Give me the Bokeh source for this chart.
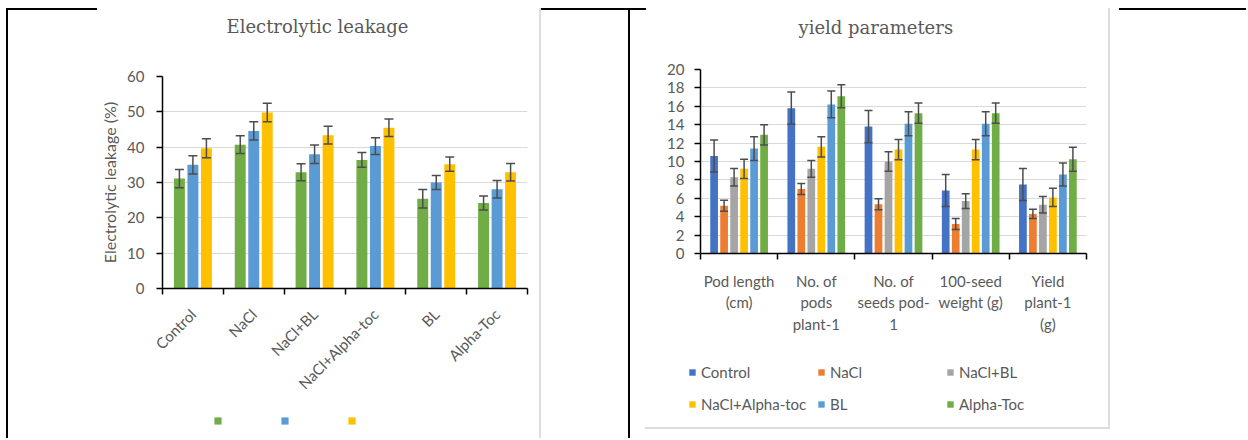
import math
from bokeh.plotting import figure
from bokeh.models import (ColumnDataSource, Range1d, LinearAxis, FixedTicker,
                          Whisker, TeeHead, Legend, LegendItem, Title)
from bokeh.transform import dodge
from bokeh.layouts import row, column
from bokeh.embed import file_html
from bokeh.resources import INLINE
from bokeh.core.properties import value

# ---------------- data: Electrolytic leakage ----------------
el_categories = ["Control", "NaCl", "NaCl+BL", "NaCl+Alpha-toc", "BL", "Alpha-Toc"]
el_green = [31.1, 40.7, 32.9, 36.4, 25.4, 24.2]
el_blue = [35.0, 44.6, 38.0, 40.3, 30.0, 28.1]
el_yellow = [39.7, 49.8, 43.4, 45.5, 35.2, 32.9]
el_green_err = [2.6, 2.5, 2.4, 2.1, 2.6, 2.0]
el_blue_err = [2.6, 2.6, 2.6, 2.4, 2.0, 2.5]
el_yellow_err = [2.7, 2.6, 2.5, 2.5, 2.0, 2.5]
el_yticks = [0, 10, 20, 30, 40, 50, 60]

# ---------------- data: yield parameters ----------------
yp_categories = ["Pod length (cm)", "No. of pods plant-1", "No. of seeds pod-1",
                 "100-seed weight (g)", "Yield plant-1 (g)"]
yp_tick_labels = ["Pod length\n(cm)", "No. of\npods\nplant-1", "No. of\nseeds pod-\n1",
                  "100-seed\nweight (g)", "Yield\nplant-1\n(g)"]
yp_series = ["Control", "NaCl", "NaCl+BL", "NaCl+Alpha-toc", "BL", "Alpha-Toc"]
yp_control = [10.6, 15.8, 13.8, 6.85, 7.5]
yp_nacl = [5.2, 7.0, 5.35, 3.2, 4.3]
yp_nacl_bl = [8.3, 9.2, 10.0, 5.7, 5.3]
yp_nacl_atoc = [9.2, 11.6, 11.3, 11.3, 6.1]
yp_bl = [11.4, 16.2, 14.1, 14.1, 8.6]
yp_atoc = [12.9, 17.1, 15.25, 15.25, 10.25]
yp_control_err = [1.75, 1.75, 1.75, 1.75, 1.75]
yp_nacl_err = [0.6, 0.6, 0.6, 0.6, 0.5]
yp_nacl_bl_err = [0.95, 0.9, 1.05, 0.8, 0.9]
yp_nacl_atoc_err = [1.05, 1.1, 1.1, 1.1, 1.0]
yp_bl_err = [1.3, 1.45, 1.3, 1.3, 1.25]
yp_atoc_err = [1.1, 1.25, 1.1, 1.1, 1.3]
yp_yticks = [0, 2, 4, 6, 8, 10, 12, 14, 16, 18, 20]

GREEN = "#70AD47"
BLUE = "#5B9BD5"
YELLOW = "#FFC000"
DBLUE = "#4472C4"
ORANGE = "#ED7D31"
GRAY = "#A5A5A5"
TXT = "#595959"
ERR = "#4D4D4D"
LINE_GRAY = "#DDDDDD"
FONT = "Lato"
H = 438
W1, W2 = 628, 618
H1, H2 = 405, 356          # heights of the chart figures; legend strips fill the rest


def css_lines(lines):
    imgs, pos, size = [], [], []
    for (x, y, w, h, c) in lines:
        imgs.append("linear-gradient(%s, %s)" % (c, c))
        pos.append("%dpx %dpx" % (x, y))
        size.append("%dpx %dpx" % (w, h))
    return (":host { background-color: white; background-repeat: no-repeat; "
            "background-image: %s; background-position: %s; background-size: %s; }"
            % (", ".join(imgs), ", ".join(pos), ", ".join(size)))


def style_common(p, title, spacer_standoff, offset):
    p.title = None
    p.outline_line_color = None
    p.background_fill_color = "white"
    p.border_fill_color = None
    p.ygrid.grid_line_color = "#D9D9D9"
    p.ygrid.grid_line_width = 1
    p.xgrid.grid_line_color = None
    # blank title used as a spacer between the frame and the real title
    p.add_layout(Title(text=" ", text_font="DejaVu Serif", text_font_size="18px",
                       standoff=spacer_standoff), "above")
    p.add_layout(Title(text=title, align="left", offset=offset, standoff=0,
                       text_font="DejaVu Serif", text_font_size="18px",
                       text_font_style="normal", text_color=TXT), "above")


def style_yaxis(ax, ticks, standoff):
    ax.ticker = FixedTicker(ticks=ticks)
    ax.major_label_text_font = FONT
    ax.major_label_text_font_size = "15px"
    ax.major_label_text_color = TXT
    ax.major_label_standoff = standoff
    ax.axis_line_color = "black"
    ax.axis_line_width = 1.5
    ax.major_tick_line_color = "black"
    ax.major_tick_line_width = 1.5
    ax.major_tick_in = 0
    ax.major_tick_out = 6
    ax.minor_tick_line_color = None


def cat_xaxis(labels, standoff):
    n = len(labels)
    ax = LinearAxis(ticker=FixedTicker(ticks=[i + 0.5 for i in range(n)],
                                       minor_ticks=list(range(n + 1))),
                    major_label_overrides={i + 0.5: c for i, c in enumerate(labels)})
    ax.major_label_text_font = FONT
    ax.major_label_text_font_size = "15px"
    ax.major_label_text_color = TXT
    ax.major_label_standoff = standoff
    ax.major_tick_line_color = None
    ax.major_tick_out = 6
    ax.minor_tick_line_color = "black"
    ax.minor_tick_line_width = 1.5
    ax.minor_tick_in = 0
    ax.minor_tick_out = 6
    ax.axis_line_color = "black"
    ax.axis_line_width = 1.5
    return ax


def legend_strip(width, height, css):
    f = figure(width=width, height=height, x_range=Range1d(0, width), y_range=Range1d(0, height),
               output_backend="svg", toolbar_location=None,
               x_axis_location=None, y_axis_location=None,
               min_border_left=0, min_border_right=0, min_border_top=0, min_border_bottom=0,
               frame_align=False, stylesheets=[css])
    f.title = None
    f.outline_line_color = None
    f.background_fill_color = None
    f.border_fill_color = None
    f.grid.visible = False
    return f


def swatch(f, color):
    # zero-height, off-range bar: only used so the legend can draw its colour square
    return f.vbar(x=[-10], top=[0], width=0.5, fill_color=color, line_color=None)


# ================= left chart =================
n1 = len(el_categories)
src1 = ColumnDataSource(dict(
    pos=[i + 0.5 for i in range(n1)],
    g=el_green, b=el_blue, y=el_yellow,
    g_lo=[v - e for v, e in zip(el_green, el_green_err)],
    g_hi=[v + e for v, e in zip(el_green, el_green_err)],
    b_lo=[v - e for v, e in zip(el_blue, el_blue_err)],
    b_hi=[v + e for v, e in zip(el_blue, el_blue_err)],
    y_lo=[v - e for v, e in zip(el_yellow, el_yellow_err)],
    y_hi=[v + e for v, e in zip(el_yellow, el_yellow_err)],
))

p1 = figure(width=W1, height=H1, frame_width=365, frame_height=212,
            x_range=Range1d(0, n1), y_range=Range1d(0, 60),
            output_backend="svg", toolbar_location=None, x_axis_location=None,
            min_border_left=162, min_border_right=101, min_border_top=76,
            min_border_bottom=H1 - 288, frame_align=False,
            stylesheets=[css_lines([(6, 8, 91, 2, "black"), (6, 8, 2, H1 - 8, "black"),
                                    (539, 8, 2, H1 - 8, LINE_GRAY), (541, 8, 87, 2, "black")])])
style_common(p1, "Electrolytic leakage", 17, 64)

colors1 = [GREEN, BLUE, YELLOW]
for key, off, col in zip(["g", "b", "y"], [-0.222, 0.0, 0.222], colors1):
    p1.vbar(x=dodge("pos", off), top=key, width=0.18, source=src1,
            fill_color=col, line_color=None)
    p1.add_layout(Whisker(base=dodge("pos", off), upper=key + "_hi", lower=key + "_lo",
                          source=src1, line_color=ERR, line_width=1.5, level="overlay",
                          upper_head=TeeHead(size=9, line_color=ERR, line_width=1.5),
                          lower_head=TeeHead(size=9, line_color=ERR, line_width=1.5)))

yax1 = p1.yaxis[0]
style_yaxis(yax1, el_yticks, 12)
yax1.axis_label = "Electrolytic leakage (%)"
yax1.axis_label_text_font = FONT
yax1.axis_label_text_font_size = "16px"
yax1.axis_label_text_font_style = "normal"
yax1.axis_label_text_color = TXT
yax1.axis_label_standoff = 5

xax1 = cat_xaxis(el_categories, 17)
xax1.major_label_orientation = math.pi / 4
p1.add_layout(xax1, "below")

# legend strip (unlabeled squares)
L1H = H - H1
lf1 = legend_strip(W1, L1H, css_lines([(6, 0, 2, L1H, "black"), (539, 0, 2, L1H, LINE_GRAY)]))
sw1 = [swatch(lf1, c) for c in colors1]
lf1.add_layout(Legend(items=[LegendItem(label=value(" "), renderers=[r]) for r in sw1],
                      location=(213, 13), orientation="horizontal",
                      glyph_width=9, glyph_height=9, label_height=9, label_width=0,
                      label_standoff=0, spacing=58, padding=0, margin=0,
                      label_text_font_size="9px",
                      border_line_color=None, background_fill_alpha=0))

# ================= right chart =================
n2 = len(yp_categories)
vals = [yp_control, yp_nacl, yp_nacl_bl, yp_nacl_atoc, yp_bl, yp_atoc]
errs = [yp_control_err, yp_nacl_err, yp_nacl_bl_err, yp_nacl_atoc_err, yp_bl_err, yp_atoc_err]
cols = [DBLUE, ORANGE, GRAY, YELLOW, BLUE, GREEN]
d2 = dict(pos=[i + 0.5 for i in range(n2)])
for i, (v, e) in enumerate(zip(vals, errs)):
    d2["s%d" % i] = v
    d2["s%d_lo" % i] = [a - b for a, b in zip(v, e)]
    d2["s%d_hi" % i] = [a + b for a, b in zip(v, e)]
src2 = ColumnDataSource(d2)

p2 = figure(width=W2, height=H2, frame_width=386, frame_height=184,
            x_range=Range1d(0, n2), y_range=Range1d(0, 20),
            output_backend="svg", toolbar_location=None, x_axis_location=None,
            min_border_left=72, min_border_right=W2 - 72 - 386, min_border_top=69,
            min_border_bottom=H2 - 253, frame_align=False,
            stylesheets=[css_lines([(0, 8, 2, H2 - 8, "black"), (0, 8, 18, 2, "black"),
                                    (480, 8, 2, H2 - 8, LINE_GRAY),
                                    (491, 8, W2 - 491, 2, "black")])])
style_common(p2, "yield parameters", 9, 98)

for i, col in enumerate(cols):
    off = (i - 2.5) * 0.1295
    p2.vbar(x=dodge("pos", off), top="s%d" % i, width=0.1, source=src2,
            fill_color=col, line_color=None)
    p2.add_layout(Whisker(base=dodge("pos", off), upper="s%d_hi" % i, lower="s%d_lo" % i,
                          source=src2, line_color=ERR, line_width=1.5, level="overlay",
                          upper_head=TeeHead(size=8, line_color=ERR, line_width=1.5),
                          lower_head=TeeHead(size=8, line_color=ERR, line_width=1.5)))

yax2 = p2.yaxis[0]
style_yaxis(yax2, yp_yticks, 10)

xax2 = cat_xaxis(yp_tick_labels, 12)
xax2.major_label_text_line_height = 1.2
p2.add_layout(xax2, "below")

# legend strip (two rows of three)
L2H = H - H2
lf2 = legend_strip(W2, L2H, css_lines([(0, 0, 2, L2H, "black"),
                                       (480, 0, 2, 428 - H2, LINE_GRAY),
                                       (17, 427 - H2, 465, 2, LINE_GRAY)]))
sw2 = [swatch(lf2, c) for c in cols]
for k, ypos in [(0, 56), (1, 24)]:
    lf2.add_layout(Legend(
        items=[LegendItem(label=value(s), renderers=[r])
               for s, r in zip(yp_series[3 * k:3 * k + 3], sw2[3 * k:3 * k + 3])],
        location=(60, ypos), orientation="horizontal",
        glyph_width=8, glyph_height=8, label_height=20, label_width=111,
        label_standoff=5, spacing=5, padding=0, margin=0,
        label_text_font=FONT, label_text_font_size="15px", label_text_color=TXT,
        border_line_color=None, background_fill_alpha=0))

layout = row(column(p1, lf1), column(p2, lf2))
with open("out.html", "w") as f:
    f.write(file_html(layout, INLINE))
